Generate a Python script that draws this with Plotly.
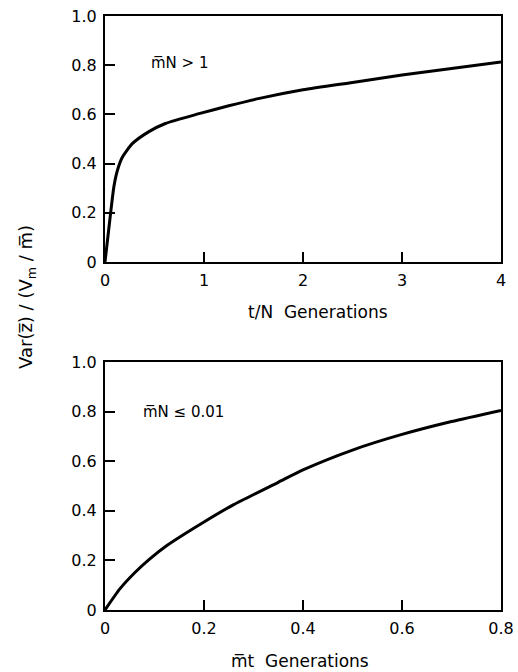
import plotly.graph_objects as go
from plotly.subplots import make_subplots

# Top panel: mN > 1
top_x = [0, 0.057, 0.09, 0.125, 0.175, 0.276, 0.444, 0.61, 0.95, 1.25, 1.56, 2.0, 2.5, 3.0, 3.5, 4.0]
top_y = [0, 0.20, 0.307, 0.372, 0.426, 0.481, 0.53, 0.563, 0.603, 0.635, 0.665, 0.70, 0.73, 0.76, 0.787, 0.813]

# Bottom panel: mN <= 0.01
bot_x = [0, 0.03, 0.06, 0.09, 0.125, 0.2, 0.26, 0.35, 0.4, 0.5, 0.6, 0.7, 0.8]
bot_y = [0, 0.085, 0.15, 0.205, 0.26, 0.355, 0.425, 0.515, 0.565, 0.645, 0.708, 0.76, 0.805]

top_xticks = [0, 1, 2, 3, 4]
top_xlabels = ["0", "1", "2", "3", "4"]
bot_xticks = [0, 0.2, 0.4, 0.6, 0.8]
bot_xlabels = ["0", "0.2", "0.4", "0.6", "0.8"]
yticks = [0, 0.2, 0.4, 0.6, 0.8, 1.0]
ylabels = ["0", "0.2", "0.4", "0.6", "0.8", "1.0"]

FONT = "DejaVu Sans"

fig = make_subplots(rows=2, cols=1)
fig.add_trace(go.Scatter(x=top_x, y=top_y, mode="lines",
                         line=dict(color="black", width=3, shape="spline", smoothing=0.6),
                         showlegend=False), row=1, col=1)
fig.add_trace(go.Scatter(x=bot_x, y=bot_y, mode="lines",
                         line=dict(color="black", width=3, shape="spline", smoothing=0.6),
                         showlegend=False), row=2, col=1)

axis_common = dict(showline=True, linecolor="black", linewidth=2, mirror=True, ticks="inside",
                   ticklen=10, tickwidth=2, tickcolor="black", showgrid=False, zeroline=False,
                   automargin=False, ticklabelstandoff=3,
                   tickfont=dict(family=FONT, size=16, color="black"))

fig.update_layout(
    width=518, height=672,
    margin=dict(l=105, r=17, t=16, b=62),
    paper_bgcolor="white", plot_bgcolor="white",
    font=dict(family=FONT, color="black"),
    xaxis=dict(domain=[0, 1], range=[0, 4], tickvals=top_xticks, ticktext=top_xlabels, **axis_common),
    yaxis=dict(domain=[0.5859, 1.0], range=[0, 1], tickvals=yticks, ticktext=ylabels, **axis_common),
    xaxis2=dict(domain=[0, 1], range=[0, 0.8], tickvals=bot_xticks, ticktext=bot_xlabels, **axis_common),
    yaxis2=dict(domain=[0, 0.4175], range=[0, 1], tickvals=yticks, ticktext=ylabels, **axis_common),
)

fig.add_annotation(x=0.44, y=0.81, xref="x", yref="y", text="m\u0305N > 1", showarrow=False,
                   xanchor="left", yanchor="middle", font=dict(family=FONT, size=15, color="black"))
fig.add_annotation(x=0.073, y=0.80, xref="x2", yref="y2", text="m\u0305N \u2264 0.01", showarrow=False,
                   xanchor="left", yanchor="middle", font=dict(family=FONT, size=15, color="black"))
fig.add_annotation(x=0.538, y=0.5017, xref="paper", yref="paper", xanchor="center", yanchor="middle",
                   text="t/N  Generations", showarrow=False, font=dict(family=FONT, size=17, color="black"))
fig.add_annotation(x=0.492, y=-0.0859, xref="paper", yref="paper", xanchor="center", yanchor="middle",
                   text="m\u0305t  Generations", showarrow=False, font=dict(family=FONT, size=17, color="black"))
fig.add_annotation(x=-0.197, y=0.527, xref="paper", yref="paper", xanchor="center", yanchor="middle",
                   text="Var(z\u0305) / (V<sub>m</sub> / m\u0305)", textangle=-90, showarrow=False,
                   font=dict(family=FONT, size=18, color="black"))

fig.write_html("out.html", config={"displayModeBar": False},
               post_script="document.body.style.margin='0';document.body.style.overflow='hidden';")
